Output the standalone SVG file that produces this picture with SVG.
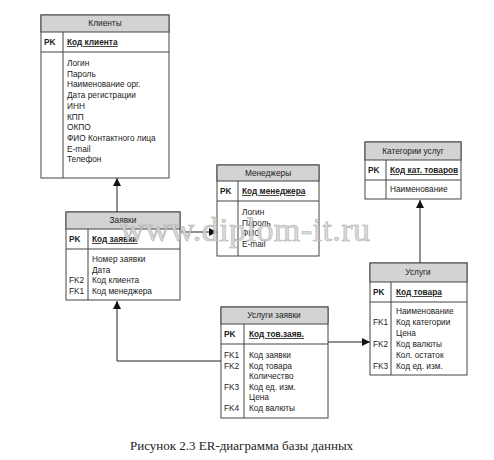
<svg xmlns="http://www.w3.org/2000/svg" width="494" height="460" viewBox="0 0 494 460">
<style>
.box{fill:#fff;stroke:#444;stroke-width:1}
.hdr{fill:#d3d3d3;stroke:#444;stroke-width:1}
.ln{stroke:#444;stroke-width:1;fill:none}
.t{font-family:"Liberation Sans",Arial,sans-serif;font-size:8.3px;fill:#222}
.h{text-anchor:middle}
.pk{font-weight:bold}
.key{font-weight:bold;text-decoration:underline}
.con{stroke:#222;stroke-width:1;fill:none}
.cap{font-family:"Liberation Serif","Times New Roman",serif;font-size:13px;fill:#222}
.wm{font-family:"Liberation Serif","Times New Roman",serif;font-size:34px;fill:#d6d6d6;stroke:#a8a8a8;stroke-width:0.6;opacity:0.9}
</style>
<defs>
<marker id="arr" viewBox="0 0 10 10" refX="10" refY="5" markerWidth="8" markerHeight="8" markerUnits="userSpaceOnUse" orient="auto">
<path d="M0,0 L10,5 L0,10 z" fill="#111"/>
</marker>
</defs>
<rect width="494" height="460" fill="#fff"/>

<g id="connectors">
<line class="con" x1="117" y1="212" x2="117" y2="178" marker-end="url(#arr)"/>
<line class="con" x1="180" y1="232" x2="217" y2="232" marker-end="url(#arr)"/>
<line class="con" x1="420" y1="263" x2="420" y2="200" marker-end="url(#arr)"/>
<polyline class="con" points="221,361 117,361 117,301" marker-end="url(#arr)"/>
<line class="con" x1="328" y1="342" x2="370" y2="342" marker-end="url(#arr)"/>
</g>

<g id="clients">
<rect class="box" x="41" y="15" width="128" height="163"/>
<rect class="hdr" x="41" y="15" width="128" height="17"/>
<line class="ln" x1="41" y1="52" x2="169" y2="52"/>
<line class="ln" x1="63" y1="32" x2="63" y2="178"/>
<text class="t h" x="105" y="26">Клиенты</text>
<text class="t pk" x="44" y="45">PK</text>
<text class="t key" x="67" y="45">Код клиента</text>
<text class="t" x="67" y="66">Логин</text>
<text class="t" x="67" y="76.7">Пароль</text>
<text class="t" x="67" y="87.4">Наименование орг.</text>
<text class="t" x="67" y="98.1">Дата регистрации</text>
<text class="t" x="67" y="108.8">ИНН</text>
<text class="t" x="67" y="119.5">КПП</text>
<text class="t" x="67" y="130.2">ОКПО</text>
<text class="t" x="67" y="140.9">ФИО Контактного лица</text>
<text class="t" x="67" y="151.6">E-mail</text>
<text class="t" x="67" y="162.3">Телефон</text>
</g>

<g id="orders">
<rect class="box" x="66" y="212" width="114" height="88"/>
<rect class="hdr" x="66" y="212" width="114" height="17"/>
<line class="ln" x1="66" y1="249" x2="180" y2="249"/>
<line class="ln" x1="88" y1="229" x2="88" y2="300"/>
<text class="t h" x="123" y="223">Заявки</text>
<text class="t pk" x="69" y="242">PK</text>
<text class="t key" x="92" y="242">Код заявки</text>
<text class="t" x="92" y="262">Номер заявки</text>
<text class="t" x="92" y="272.7">Дата</text>
<text class="t" x="69" y="283.4">FK2</text>
<text class="t" x="92" y="283.4">Код клиента</text>
<text class="t" x="69" y="294.1">FK1</text>
<text class="t" x="92" y="294.1">Код менеджера</text>
</g>

<g id="managers">
<rect class="box" x="217" y="165" width="102" height="91"/>
<rect class="hdr" x="217" y="165" width="102" height="16"/>
<line class="ln" x1="217" y1="201" x2="319" y2="201"/>
<line class="ln" x1="238" y1="181" x2="238" y2="256"/>
<text class="t h" x="268" y="176">Менеджеры</text>
<text class="t pk" x="220" y="194">PK</text>
<text class="t key" x="242" y="194">Код менеджера</text>
<text class="t" x="242" y="215">Логин</text>
<text class="t" x="242" y="225.5">Пароль</text>
<text class="t" x="242" y="236">ФИО</text>
<text class="t" x="242" y="246.5">E-mail</text>
</g>

<g id="categories">
<rect class="box" x="365" y="142" width="96" height="57"/>
<rect class="hdr" x="365" y="142" width="96" height="18"/>
<line class="ln" x1="365" y1="180" x2="461" y2="180"/>
<line class="ln" x1="386" y1="160" x2="386" y2="199"/>
<text class="t h" x="413" y="154">Категории услуг</text>
<text class="t pk" x="368" y="173">PK</text>
<text class="t key" x="390" y="173">Код кат. товаров</text>
<text class="t" x="390" y="192">Наименование</text>
</g>

<g id="services">
<rect class="box" x="370" y="263" width="97" height="112"/>
<rect class="hdr" x="370" y="263" width="97" height="19"/>
<line class="ln" x1="370" y1="302" x2="467" y2="302"/>
<line class="ln" x1="391" y1="282" x2="391" y2="375"/>
<text class="t h" x="418" y="275">Услуги</text>
<text class="t pk" x="373" y="295">PK</text>
<text class="t key" x="396" y="295">Код товара</text>
<text class="t" x="396" y="314">Наименование</text>
<text class="t" x="373" y="325">FK1</text>
<text class="t" x="396" y="325">Код категории</text>
<text class="t" x="396" y="336">Цена</text>
<text class="t" x="373" y="347">FK2</text>
<text class="t" x="396" y="347">Код валюты</text>
<text class="t" x="396" y="358">Кол. остаток</text>
<text class="t" x="373" y="369">FK3</text>
<text class="t" x="396" y="369">Код ед. изм.</text>
</g>

<g id="order-services">
<rect class="box" x="221" y="307" width="107" height="111"/>
<rect class="hdr" x="221" y="307" width="107" height="17"/>
<line class="ln" x1="221" y1="344" x2="328" y2="344"/>
<line class="ln" x1="244" y1="324" x2="244" y2="418"/>
<text class="t h" x="274" y="318">Услуги заявки</text>
<text class="t pk" x="224" y="337">PK</text>
<text class="t key" x="249" y="337">Код тов.заяв.</text>
<text class="t" x="224" y="358">FK1</text>
<text class="t" x="249" y="358">Код заявки</text>
<text class="t" x="224" y="368.5">FK2</text>
<text class="t" x="249" y="368.5">Код товара</text>
<text class="t" x="249" y="379">Количество</text>
<text class="t" x="224" y="389.5">FK3</text>
<text class="t" x="249" y="389.5">Код ед. изм.</text>
<text class="t" x="249" y="400">Цена</text>
<text class="t" x="224" y="410.5">FK4</text>
<text class="t" x="249" y="410.5">Код валюты</text>
</g>

<text class="wm" x="120" y="241" textLength="250">www.diplom-it.ru</text>
<text class="cap" x="130" y="450">Рисунок 2.3 ER-диаграмма базы данных</text>
</svg>
